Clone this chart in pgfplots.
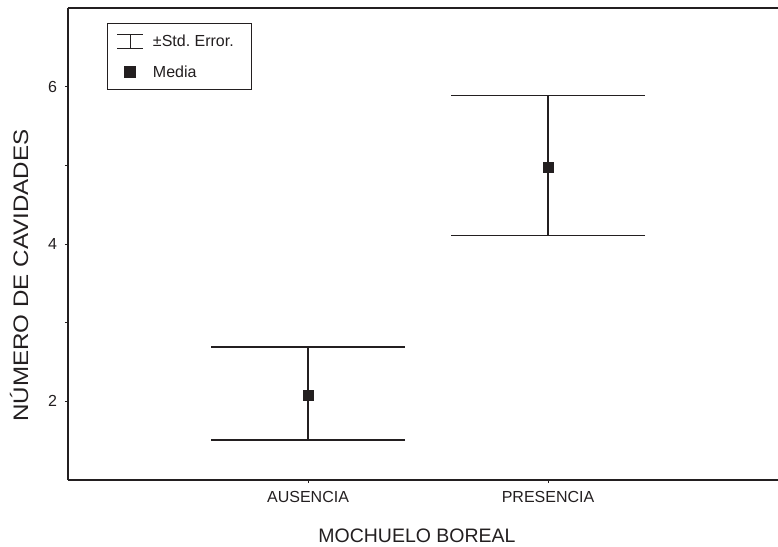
\documentclass[border=0pt]{standalone}
\usepackage{fontspec}
\setmainfont{Liberation Sans}
\newfontfamily\ylabfont{Liberation Sans}[FakeStretch=1.15]
\usepackage{pgfplots}
\pgfplotsset{compat=1.18}
\definecolor{ink}{RGB}{35,31,32}
\frenchspacing
\begin{document}
\begin{tikzpicture}
\useasboundingbox (-68pt,-66pt) rectangle (710pt,480pt);
\begin{axis}[
  at={(0,0)}, anchor=south west,
  scale only axis, width=710pt, height=472pt,
  xmin=0, xmax=2.958, ymin=1, ymax=7,
  clip=false,
  axis x line*=bottom, axis y line*=left,
  axis line style={-, line width=1.4pt, color=ink},
  tick style={line width=1pt, color=ink},
  tick align=outside, major tick length=3pt,
  xtick={1,2}, xticklabels={AUSENCIA,PRESENCIA},
  ytick={2,3,4,5,6}, yticklabels={2,,4,,6},
  /pgf/number format/assume math mode=true,
  ticklabel style={font=\fontsize{16}{19}\selectfont, text=ink},
  yticklabel style={xshift=-4.5pt},
  xticklabel style={yshift=-4.5pt},
  xlabel={MOCHUELO BOREAL},
  xlabel style={at={(axis description cs:0.4915,0)}, anchor=base, yshift=-62.3pt, font=\fontsize{19.5}{23}\selectfont, text=ink},
  ylabel={\ylabfont NÚMERO DE CAVIDADES},
  ylabel style={at={(axis description cs:-0.0563,0.433)}, anchor=base, rotate=0, font=\fontsize{21}{25}\selectfont, text=ink},
  legend style={at={(axis description cs:0.0549,0.968)}, anchor=north west, draw=ink, line width=1.2pt,
    font=\fontsize{16}{19}\selectfont, text=ink, inner xsep=9pt, inner ysep=10pt, row sep=15.5pt,
    column sep=8pt, nodes={inner sep=1pt}},
  legend cell align=left,
]
\addplot[only marks, mark=none, color=ink,
  legend image code/.code={\draw[ink, line width=1.4pt] (0pt,-7pt) -- (0pt,7pt) (-13pt,7pt) -- (13pt,7pt) (-13pt,-7pt) -- (13pt,-7pt);},
  error bars/.cd, y dir=both, y explicit,
  error bar style={line width=1.4pt, color=ink},
  error mark options={rotate=90, line width=1.4pt, color=ink, mark size=97pt}]
coordinates {
  (1,2.076) += (0,0.616) -= (0,0.570)
  (2,4.978) += (0,0.908) -= (0,0.873)
};
\addlegendentry{±Std. Error.\hspace*{8pt}}
\addplot[only marks, mark=square*, mark size=5.3pt, color=ink,
  legend image code/.code={\pgfuseplotmark{square*}}]
coordinates {(1,2.076) (2,4.978)};
\addlegendentry{Media}
\draw[ink, line width=1.4pt] (rel axis cs:0,1) -- (rel axis cs:1,1);
\end{axis}
\end{tikzpicture}
\end{document}
